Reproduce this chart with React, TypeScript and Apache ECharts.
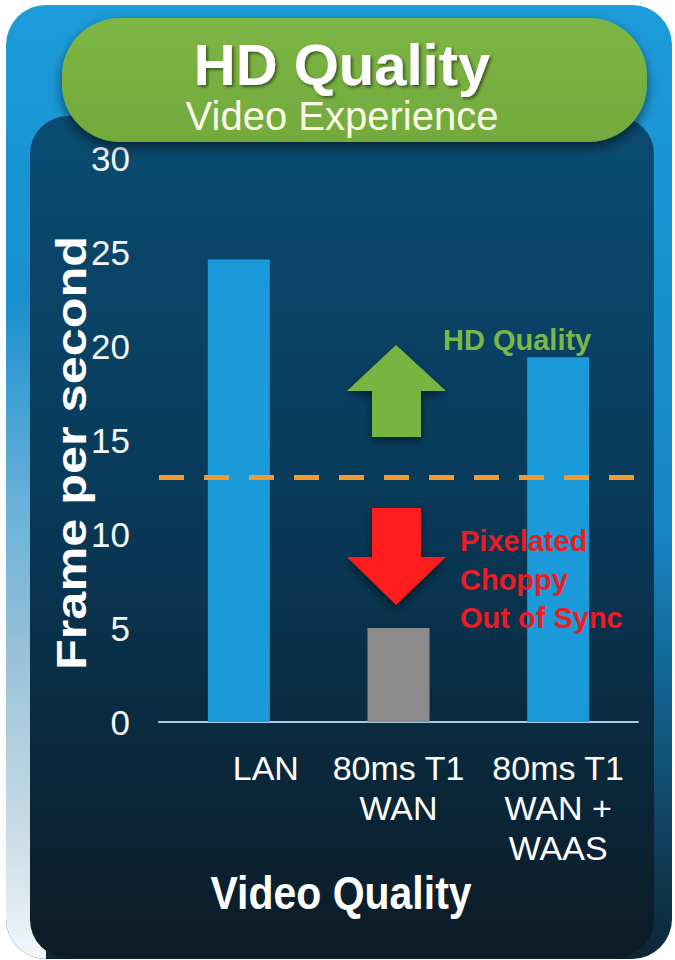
import React, { useEffect, useRef } from "react";
import * as echarts from "echarts";

// ---- data ----
const categories = ["LAN", "80ms T1\nWAN", "80ms T1\nWAN +\nWAAS"];
const framesPerSecond = [24.6, 5.0, 19.4];
const barColors = ["#1b9ad9", "#8c8c8c", "#1b9ad9"];
const hdThreshold = 13;
const yMin = 0;
const yMax = 30;
const yInterval = 5;
const titleMain = "HD Quality";
const titleSub = "Video Experience";
const yAxisTitle = "Frame per second";
const xAxisTitle = "Video Quality";
const goodLabel = "HD Quality";
const badLabels = ["Pixelated", "Choppy", "Out of Sync"];

const NARROW = '"Liberation Sans Narrow", "Arial Narrow", "Liberation Sans", Arial, sans-serif';
const SANS = '"Liberation Sans", Arial, sans-serif';

function buildOption() {
  const catData = categories.map((c, i) =>
    i === 0 ? { value: c, textStyle: { padding: [0, 0, 0, 54] } } : { value: c }
  );
  const barData = framesPerSecond.map((v, i) => ({
    value: v,
    itemStyle: { color: barColors[i] },
  }));

  const graphics: any[] = [
    // outer blue frame
    {
      type: "rect",
      z: -30,
      shape: { x: 6, y: 5, width: 666, height: 954, r: 40 },
      style: {
        fill: new echarts.graphic.LinearGradient(0, 0, 0, 1, [
          { offset: 0, color: "#1c9cda" },
          { offset: 0.55, color: "#1686c4" },
          { offset: 1, color: "#0d2634" },
        ]),
      },
    },
    // left light fade
    {
      type: "rect",
      z: -29,
      shape: { x: 6, y: 300, width: 40, height: 659, r: [0, 0, 0, 40] },
      style: {
        fill: new echarts.graphic.LinearGradient(0, 0, 0, 1, [
          { offset: 0, color: "rgba(240,247,251,0)" },
          { offset: 0.6, color: "rgba(200,226,240,0.8)" },
          { offset: 1, color: "rgba(242,247,250,1)" },
        ]),
      },
    },
    // dark inner panel
    {
      type: "rect",
      z: -28,
      shape: { x: 30, y: 116, width: 624, height: 842, r: 38 },
      style: {
        fill: new echarts.graphic.LinearGradient(0, 0, 0, 1, [
          { offset: 0, color: "#0b4c72" },
          { offset: 0.45, color: "#083a5a" },
          { offset: 1, color: "#0c1b26" },
        ]),
      },
    },
    // green pill
    {
      type: "rect",
      z: 20,
      shape: { x: 62, y: 18, width: 585, height: 124, r: 58 },
      style: {
        fill: new echarts.graphic.LinearGradient(0, 0, 0, 1, [
          { offset: 0, color: "#7db645" },
          { offset: 1, color: "#72aa3d" },
        ]),
        shadowBlur: 12,
        shadowOffsetY: 5,
        shadowColor: "rgba(0,0,0,0.55)",
      },
    },
    {
      type: "text",
      z: 21,
      x: 342,
      y: 64,
      style: {
        text: titleMain,
        font: `bold 58px ${SANS}`,
        fill: "#ffffff",
        align: "center",
        verticalAlign: "middle",
        textShadowColor: "rgba(40,50,20,0.7)",
        textShadowBlur: 3,
        textShadowOffsetX: 2,
        textShadowOffsetY: 2,
      },
    },
    {
      type: "text",
      z: 21,
      x: 342,
      y: 116,
      style: {
        text: titleSub,
        font: `40px ${SANS}`,
        fill: "#fbfbe6",
        align: "center",
        verticalAlign: "middle",
      },
    },
    // y axis title
    {
      type: "text",
      z: 10,
      x: 72,
      y: 453,
      rotation: Math.PI / 2,
      scaleX: 1.2,
      style: {
        text: yAxisTitle,
        font: `bold 42px ${SANS}`,
        fill: "#ffffff",
        align: "center",
        verticalAlign: "middle",
      },
    },
    // x axis title
    {
      type: "text",
      z: 10,
      x: 341,
      y: 893,
      scaleY: 1.12,
      style: {
        text: xAxisTitle,
        font: `bold 41px ${SANS}`,
        fill: "#ffffff",
        align: "center",
        verticalAlign: "middle",
      },
    },
    // up arrow
    {
      type: "polygon",
      z: 10,
      shape: {
        points: [
          [396, 345],
          [446, 391],
          [421, 391],
          [421, 437],
          [372, 437],
          [372, 391],
          [347, 391],
        ],
      },
      style: {
        fill: "#78b443",
        shadowBlur: 8,
        shadowOffsetY: 4,
        shadowColor: "rgba(0,0,0,0.5)",
      },
    },
    // down arrow
    {
      type: "polygon",
      z: 10,
      shape: {
        points: [
          [372, 508],
          [421, 508],
          [421, 557],
          [446, 557],
          [396, 605],
          [347, 557],
          [372, 557],
        ],
      },
      style: {
        fill: "#ff1a1a",
        shadowBlur: 8,
        shadowOffsetY: 4,
        shadowColor: "rgba(0,0,0,0.5)",
      },
    },
    {
      type: "text",
      z: 10,
      x: 443,
      y: 340,
      style: {
        text: goodLabel,
        font: `bold 29px ${SANS}`,
        fill: "#7ab648",
        align: "left",
        verticalAlign: "middle",
      },
    },
    ...badLabels.map((t, i) => ({
      type: "text",
      z: 10,
      x: 460,
      y: 541 + i * 38.5,
      style: {
        text: t,
        font: `bold 29px ${SANS}`,
        fill: "#ec1c24",
        align: "left",
        verticalAlign: "middle",
      },
    })),
  ];

  return {
    animation: false,
    backgroundColor: "#ffffff",
    grid: { left: 159, right: 37, top: 158, bottom: 238, containLabel: false },
    xAxis: {
      type: "category",
      data: catData,
      axisLine: { show: true, lineStyle: { color: "#a9c9df", width: 2 } },
      axisTick: { show: false },
      axisLabel: {
        color: "#ffffff",
        fontFamily: NARROW,
        fontSize: 34,
        lineHeight: 40,
        margin: 26,
        interval: 0,
        verticalAlign: "top",
      },
      splitLine: { show: false },
    },
    yAxis: {
      type: "value",
      min: yMin,
      max: yMax,
      interval: yInterval,
      axisLine: { show: false },
      axisTick: { show: false },
      splitLine: { show: false },
      axisLabel: {
        color: "#f2f6f8",
        fontFamily: NARROW,
        fontSize: 35,
        margin: 29,
      },
    },
    series: [
      {
        type: "bar",
        data: barData,
        barWidth: 62,
        z: 3,
        markLine: {
          silent: true,
          symbol: "none",
          label: { show: false },
          lineStyle: { color: "#f39a2c", width: 5, type: [25, 20], dashOffset: 0 },
          data: [{ yAxis: hdThreshold }],
        },
      },
    ],
    graphic: { elements: graphics },
  };
}

export default function App() {
  const ref = useRef<HTMLDivElement>(null);
  useEffect(() => {
    if (!ref.current) return;
    const chart = echarts.init(ref.current, null, { renderer: "svg" });
    chart.setOption(buildOption() as any);
    return () => chart.dispose();
  }, []);
  return (
    <div
      ref={ref}
      style={{ position: "absolute", left: 0, top: 0, width: 675, height: 960 }}
    />
  );
}
